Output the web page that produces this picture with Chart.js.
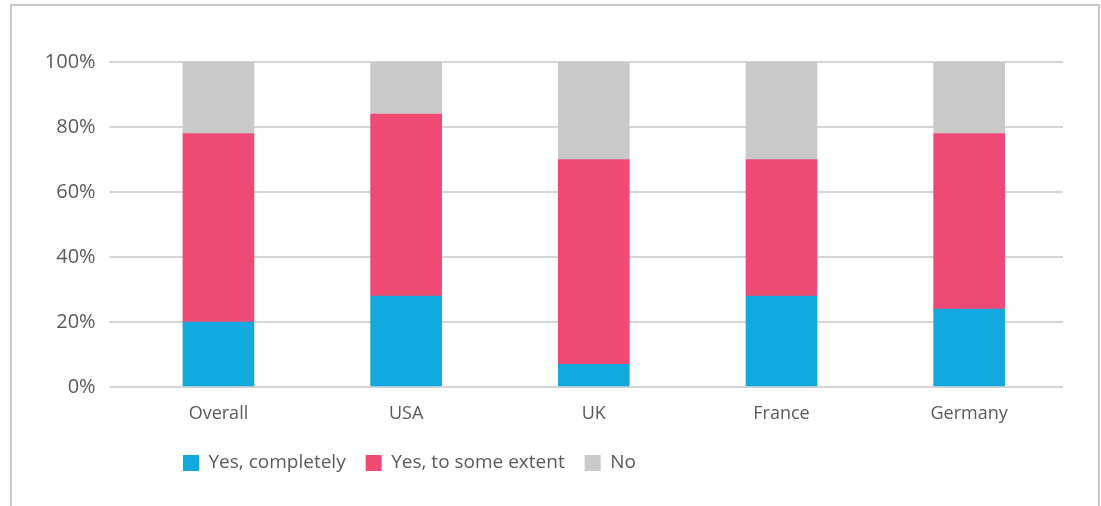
<!DOCTYPE html>
<html>
<head>
<meta charset="utf-8">
<script src="https://cdn.jsdelivr.net/npm/chart.js@4.4.1/dist/chart.umd.min.js"></script>
<style>
  html, body { margin: 0; padding: 0; background: #ffffff; }
  #wrap { position: relative; width: 1101px; height: 506px; overflow: hidden; }
  #frame { position: absolute; left: 10px; top: 4px; width: 1086px; height: 600px;
           border: 2px solid #c8c8c8; border-bottom: none; }
  #c { position: absolute; left: 0; top: 0; }
</style>
</head>
<body>
<div id="wrap">
  <div id="frame"></div>
  <canvas id="c" width="1101" height="506"></canvas>
</div>
<script>
const categories = ['Overall', 'USA', 'UK', 'France', 'Germany'];
const seriesNames = ['Yes, completely', 'Yes, to some extent', 'No'];
const yesCompletely = [20, 28, 7, 28, 24];
const yesSomeExtent = [58, 56, 63, 42, 54];
const noValues = [22, 16, 30, 30, 22];
const yTicks = [0, 20, 40, 60, 80, 100];

const colors = ['#12AADE', '#EE4A73', '#C9C9C9'];
const textColor = '#5a5a5a';
const fontFamily = '"Open Sans", "Noto Sans", sans-serif';

const legendShift = {
  id: 'legendShift',
  afterLayout(chart) {
    const lg = chart.legend;
    if (!lg) return;
    const pad = chart.options.plugins.legend.labels.padding;
    lg.left = 183 - pad;
  }
};

new Chart(document.getElementById('c'), {
  type: 'bar',
  data: {
    labels: categories,
    datasets: [
      { label: seriesNames[0], data: yesCompletely, backgroundColor: colors[0], borderWidth: 0 },
      { label: seriesNames[1], data: yesSomeExtent, backgroundColor: colors[1], borderWidth: 0 },
      { label: seriesNames[2], data: noValues, backgroundColor: colors[2], borderWidth: 0 }
    ]
  },
  options: {
    responsive: false,
    animation: false,
    layout: { padding: { top: 62, right: 38, bottom: 23.5, left: 0 } },
    datasets: { bar: { barThickness: 71 } },
    scales: {
      x: {
        stacked: true,
        grid: { display: false, drawTicks: false },
        border: { display: false },
        ticks: { color: textColor, font: { family: fontFamily, size: 18 }, padding: 16 },
        afterFit(scale) { scale.height = 46.5; }
      },
      y: {
        stacked: true,
        min: 0,
        max: 100,
        afterBuildTicks(scale) { scale.ticks = yTicks.map(v => ({ value: v })); },
        grid: { color: '#d5d5d5', lineWidth: 2, drawTicks: true, tickLength: 15, tickColor: '#d5d5d5' },
        border: { display: false },
        ticks: { color: textColor, font: { family: fontFamily, size: 20 }, padding: 14,
                 callback: v => v + '%' },
        afterFit(scale) { scale.width = 124.6; }
      }
    },
    plugins: {
      legend: {
        position: 'bottom',
        align: 'start',
        labels: { boxWidth: 16, boxHeight: 16, padding: 20, color: textColor,
                  font: { family: fontFamily, size: 19 } }
      },
      tooltip: { enabled: false }
    }
  },
  plugins: [legendShift]
});
</script>
</body>
</html>
